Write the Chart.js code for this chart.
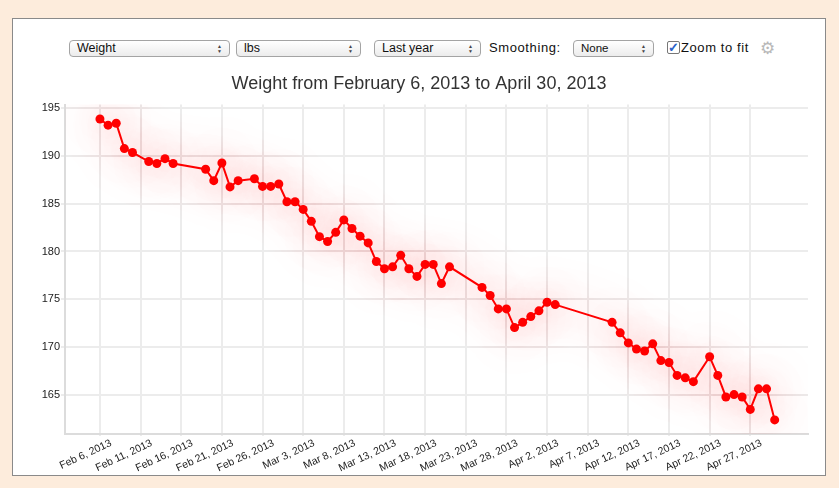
<!DOCTYPE html>
<html>
<head>
<meta charset="utf-8">
<script src="https://cdn.jsdelivr.net/npm/chart.js@4.4.1/dist/chart.umd.min.js"></script>
<style>
  body { margin: 0; width: 839px; height: 488px; background: #fdecdc; font-family: "Liberation Sans", Arial, sans-serif; position: relative; overflow: hidden; }
  #panel { position: absolute; left: 12px; top: 18px; width: 812px; height: 456px; border: 1px solid #8a8a8a; background: #fff; }
  .sel { position: absolute; top: 40px; height: 17px; box-sizing: border-box; border: 1px solid #a4a4a4; border-radius: 4px;
         background: linear-gradient(#ffffff, #ececec); font-size: 12.5px; line-height: 15px; padding-left: 7px; color: #111; }
  .arr { position: absolute; right: 7px; top: 3px; font-size: 5px; line-height: 5px; color: #444; }
  .lbl { position: absolute; top: 40px; font-size: 13px; line-height: 15px; letter-spacing: 0.6px; color: #111; }
  #check { position: absolute; left: 667px; top: 41px; width: 11px; height: 11px; border: 1px solid #777; border-radius: 2px; background: #fff;
           color: #2a62c9; font-size: 13px; line-height: 11px; font-weight: bold; text-align: center; }
  #gear { position: absolute; left: 760px; top: 38px; font-family: "DejaVu Sans"; font-size: 17px; color: #b8b8b8; }
  #weightChart { position: absolute; left: 30px; top: 67px; }
</style>
</head>
<body>
<div id="panel"></div>
<div class="sel" style="left:69px;width:161px">Weight<span class="arr">▲<br>▼</span></div>
<div class="sel" style="left:236px;width:125px">lbs<span class="arr">▲<br>▼</span></div>
<div class="sel" style="left:374px;width:107px">Last year<span class="arr">▲<br>▼</span></div>
<div class="lbl" style="left:489px">Smoothing:</div>
<div class="sel" style="left:573px;width:81px;font-size:11.5px">None<span class="arr">▲<br>▼</span></div>
<div id="check">✓</div>
<div class="lbl" style="left:681px">Zoom to fit</div>
<div id="gear">⚙</div>
<canvas id="weightChart" width="795" height="408"></canvas>
<script>
// measurement dates and weights (lbs)
const dates = [
  '2013-02-06', '2013-02-07', '2013-02-08', '2013-02-09', '2013-02-10', '2013-02-12', '2013-02-13', '2013-02-14',
  '2013-02-15', '2013-02-19', '2013-02-20', '2013-02-21', '2013-02-22', '2013-02-23', '2013-02-25', '2013-02-26',
  '2013-02-27', '2013-02-28', '2013-03-01', '2013-03-02', '2013-03-03', '2013-03-04', '2013-03-05', '2013-03-06',
  '2013-03-07', '2013-03-08', '2013-03-09', '2013-03-10', '2013-03-11', '2013-03-12', '2013-03-13', '2013-03-14',
  '2013-03-15', '2013-03-16', '2013-03-17', '2013-03-18', '2013-03-19', '2013-03-20', '2013-03-21', '2013-03-25',
  '2013-03-26', '2013-03-27', '2013-03-28', '2013-03-29', '2013-03-30', '2013-03-31', '2013-04-01', '2013-04-02',
  '2013-04-03', '2013-04-10', '2013-04-11', '2013-04-12', '2013-04-13', '2013-04-14', '2013-04-15', '2013-04-16',
  '2013-04-17', '2013-04-18', '2013-04-19', '2013-04-20', '2013-04-22', '2013-04-23', '2013-04-24', '2013-04-25',
  '2013-04-26', '2013-04-27', '2013-04-28', '2013-04-29', '2013-04-30'
];
const weights = [
  193.85, 193.2, 193.4, 190.75, 190.35, 189.4, 189.2, 189.7,
  189.2, 188.6, 187.4, 189.25, 186.75, 187.4, 187.6, 186.8,
  186.8, 187.05, 185.2, 185.2, 184.4, 183.15, 181.55, 181.05,
  182.0, 183.3, 182.4, 181.6, 180.9, 178.95, 178.2, 178.4,
  179.6, 178.2, 177.4, 178.65, 178.65, 176.65, 178.4, 176.25,
  175.4, 174.0, 174.0, 172.05, 172.6, 173.2, 173.8, 174.7,
  174.45, 172.6, 171.5, 170.45, 169.8, 169.6, 170.35, 168.6,
  168.4, 167.05, 166.8, 166.4, 169.0, 167.05, 164.8, 165.05,
  164.8, 163.5, 165.65, 165.65, 162.4
];
const xTickDates = [
  '2013-02-06', '2013-02-11', '2013-02-16', '2013-02-21', '2013-02-26', '2013-03-03', '2013-03-08', '2013-03-13', '2013-03-18',
  '2013-03-23', '2013-03-28', '2013-04-02', '2013-04-07', '2013-04-12', '2013-04-17', '2013-04-22', '2013-04-27'
];
const yTicks = [165, 170, 175, 180, 185, 190, 195];

const MONTHS = ['Jan', 'Feb', 'Mar', 'Apr', 'May', 'Jun', 'Jul', 'Aug', 'Sep', 'Oct', 'Nov', 'Dec'];
const DAY = 86400000;
const origin = Date.parse(dates[0]);
const toDay = s => (Date.parse(s) - origin) / DAY;
const fmtDay = v => {
  const d = new Date(origin + v * DAY);
  return MONTHS[d.getUTCMonth()] + ' ' + d.getUTCDate() + ', ' + d.getUTCFullYear();
};

// soft red halo round the line
const glow = {
  id: 'glow',
  beforeDatasetsDraw(chart) {
    const c = chart.ctx;
    c.save();
    c.shadowColor = 'rgba(255, 0, 0, 0.7)';
    c.shadowBlur = 44;
  },
  afterDatasetsDraw(chart) {
    chart.ctx.restore();
  }
};

const ctx = document.getElementById('weightChart').getContext('2d');
new Chart(ctx, {
  type: 'line',
  data: {
    datasets: [{
      data: dates.map((d, i) => ({ x: toDay(d), y: weights[i] })),
      borderColor: '#ff0000',
      backgroundColor: '#ff0000',
      borderWidth: 2,
      pointRadius: 4.5,
      pointBorderWidth: 0,
      tension: 0
    }]
  },
  options: {
    responsive: false,
    animation: false,
    events: [],
    layout: { padding: { right: 17 } },
    plugins: {
      legend: { display: false },
      tooltip: { enabled: false },
      title: {
        display: true,
        text: 'Weight from ' + fmtDay(0).replace('Feb', 'February') + ' to ' + fmtDay(toDay(dates[dates.length - 1])).replace('Apr', 'April'),
        color: '#333',
        font: { family: '"Liberation Sans", Arial, sans-serif', size: 18, weight: 'normal' },
        padding: { top: 6, bottom: 10 }
      }
    },
    scales: {
      x: {
        type: 'linear',
        min: -4.3,
        max: 87.1,
        afterBuildTicks: s => { s.ticks = xTickDates.map(d => ({ value: toDay(d) })); },
        afterFit: s => { s.height = 41; },
        grid: { color: '#ececec', lineWidth: 2, tickLength: 2 },
        border: { color: '#dcdcdc', width: 2 },
        ticks: {
          autoSkip: false,
          minRotation: 25,
          maxRotation: 25,
          labelOffset: 11,
          padding: 1,
          color: '#222',
          font: { family: '"Liberation Sans", Arial, sans-serif', size: 10.5 },
          callback: v => fmtDay(v)
        }
      },
      y: {
        min: 160.93,
        max: 195.35,
        afterBuildTicks: s => { s.ticks = yTicks.map(v => ({ value: v })); },
        afterFit: s => { s.width = 35; },
        grid: { color: '#ececec', lineWidth: 2, tickLength: 4 },
        border: { color: '#dcdcdc', width: 2 },
        ticks: {
          padding: 1,
          color: '#222',
          font: { family: '"Liberation Sans", Arial, sans-serif', size: 11 }
        }
      }
    }
  },
  plugins: [glow]
});
</script>
</body>
</html>
